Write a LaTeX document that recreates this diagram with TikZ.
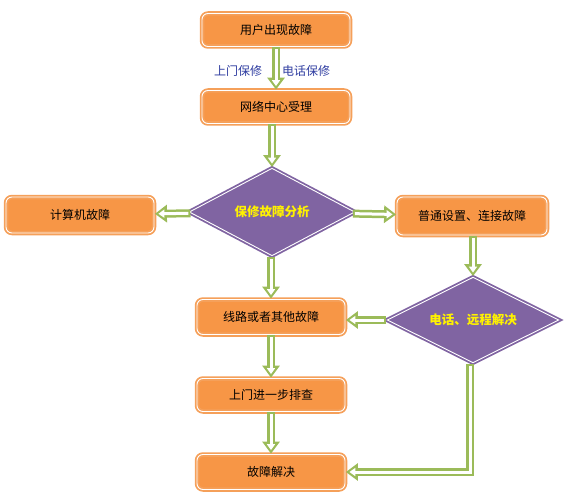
\documentclass[tikz,border=0pt]{standalone}
\usepackage{fontspec}
\setmainfont{Noto Sans CJK SC}
\usepackage{xcolor}
\usetikzlibrary{shapes.geometric,arrows.meta}

\definecolor{boxorange}{HTML}{F79646}
\definecolor{rimorange}{HTML}{F5A05A}
\definecolor{decpurple}{HTML}{8064A2}
\definecolor{flowgreen}{HTML}{9BBB59}
\definecolor{labelblue}{HTML}{2E3CA0}

\tikzset{
  stepbox/.style={rectangle,rounded corners=6pt,fill=boxorange,draw=rimorange,
    line width=1.8pt,double=white,double distance=0.9pt,
    minimum width=148pt,minimum height=33pt,font=\fontsize{12}{14}\selectfont},
  decision/.style={diamond,aspect=2,fill=decpurple,draw=decpurple,
    line width=1.8pt,double=white,double distance=0.9pt,inner sep=0pt,
    text=yellow,font=\bfseries\fontsize{12.5}{14}\selectfont},
  flow/.style={draw=flowgreen,line width=8pt,-{Triangle[length=12pt,width=17pt]},
    postaction={draw=white,line width=3pt,-{Triangle[length=6pt,width=8pt]},
      shorten >=3.5pt,shorten <=2pt}},
  tag/.style={text=labelblue,font=\fontsize{12}{14}\selectfont}
}

\begin{document}
\begin{tikzpicture}[x=1pt,y=-1pt]
  \useasboundingbox (0,0) rectangle (570,500);

  \node[stepbox] (report) at (276,30) {用户出现故障};
  \node[stepbox] (center) at (276,107) {网络中心受理};
  \node[decision,minimum width=166pt,minimum height=88pt] (analyse) at (272,212) {保修故障分析};
  \node[stepbox,minimum height=36pt] (pc) at (80,215) {计算机故障};
  \node[stepbox,minimum width=150pt,minimum height=38pt] (setup) at (472,216) {普通设置、连接故障};
  \node[decision,minimum width=172pt,minimum height=86pt] (remote) at (473,320) {电话、远程解决};
  \node[stepbox,minimum height=35pt] (line) at (271,317) {线路或者其他故障};
  \node[stepbox,minimum height=33pt] (visit) at (271,395) {上门进一步排查};
  \node[stepbox,minimum height=35pt] (solved) at (271,472) {故障解决};

  \draw[flow] (report) -- (center);
  \node[tag] (onsite) at (238,71) {上门保修};
  \node[tag] (phone) at (306,71) {电话保修};

  \draw[flow] (center.south -| analyse) -- (analyse);
  \draw[flow] (analyse) -- (pc);
  \draw[flow] (analyse) -- (setup);
  \draw[flow] (analyse.south -| line) -- (line);
  \draw[flow] (setup.south -| remote) -- (remote);
  \draw[flow] (remote) -- (remote -| line.east);
  \draw[flow] (line) -- (visit);
  \draw[flow] (visit) -- (solved);
  \draw[flow] ([xshift=-3pt]remote.south) |- (solved.east);
\end{tikzpicture}
\end{document}
